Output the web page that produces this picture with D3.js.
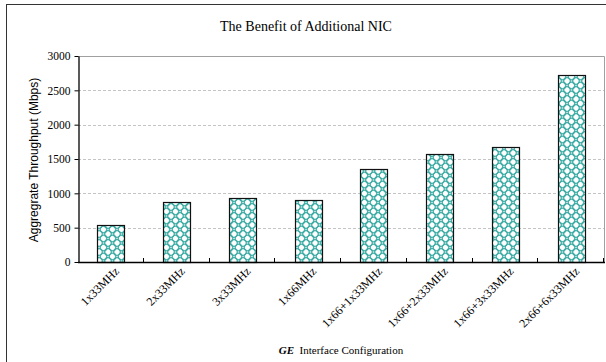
<!DOCTYPE html>
<html>
<head>
<meta charset="utf-8">
<script src="https://cdn.jsdelivr.net/npm/d3@7"></script>
<style>
  html, body { margin: 0; padding: 0; background: #fff; }
  svg { display: block; }
</style>
</head>
<body>
<script>
// Interface configurations and the measured aggregate throughput (Mbps)
const categories = ["1x33MHz", "2x33MHz", "3x33MHz", "1x66MHz",
  "1x66+1x33MHz", "1x66+2x33MHz", "1x66+3x33MHz", "2x66+6x33MHz"];
const throughput = [545, 880, 925, 905, 1360, 1575, 1675, 2730];
const yTicks = [0, 500, 1000, 1500, 2000, 2500, 3000];

const W = 606, H = 362;
const plot = { left: 78, right: 604, top: 56, bottom: 262 };

const svg = d3.select("body").append("svg")
  .attr("width", W).attr("height", H);

// lattice fill for the bars
const defs = svg.append("defs");
const pat = defs.append("pattern")
  .attr("id", "lattice")
  .attr("patternUnits", "userSpaceOnUse")
  .attr("width", 9).attr("height", 9);
pat.append("rect").attr("width", 9).attr("height", 9).attr("fill", "#fff");
[[0, 0], [9, 0], [0, 9], [9, 9], [4.5, 4.5]].forEach(([cx, cy]) => {
  pat.append("circle").attr("cx", cx).attr("cy", cy).attr("r", 3.3)
    .attr("fill", "none").attr("stroke", "#3fada6").attr("stroke-width", 1.3);
});

// outer frame
svg.append("rect")
  .attr("x", 6.5).attr("y", 4.5).attr("width", 620).attr("height", 380)
  .attr("fill", "none").attr("stroke", "#333").attr("stroke-width", 1);

const x = d3.scaleBand().domain(categories)
  .range([plot.left, plot.right]).paddingInner(0.59).paddingOuter(0.295);
const y = d3.scaleLinear().domain([0, 3000]).range([plot.bottom, plot.top]);

// dashed gridlines
svg.append("g").selectAll("line").data(yTicks.filter(d => d > 0 && d < 3000)).join("line")
  .attr("x1", plot.left).attr("x2", plot.right)
  .attr("y1", d => Math.round(y(d)) + 0.5).attr("y2", d => Math.round(y(d)) + 0.5)
  .attr("stroke", "#c4c4c4").attr("stroke-width", 1).attr("stroke-dasharray", "3,2");

// plot border (top and right)
svg.append("path")
  .attr("d", `M${plot.left},${plot.top + 0.5}H${plot.right + 0.5}V${plot.bottom}`)
  .attr("fill", "none").attr("stroke", "#a0a0a0").attr("stroke-width", 1);

// bars
svg.append("g").selectAll("rect").data(throughput).join("rect")
  .attr("x", (d, i) => Math.round(x(categories[i])) + 0.5)
  .attr("y", d => Math.round(y(d)) + 0.5)
  .attr("width", Math.round(x.bandwidth()))
  .attr("height", d => Math.round(y(0)) - Math.round(y(d)))
  .attr("fill", "url(#lattice)")
  .attr("stroke", "#111").attr("stroke-width", 1.2);

// y axis
const yAxis = svg.append("g")
  .attr("transform", `translate(${plot.left + 0.5},0)`)
  .call(d3.axisLeft(y).tickValues(yTicks).tickFormat(d3.format("d"))
    .tickSize(4).tickSizeOuter(0).tickPadding(4));
yAxis.select(".domain").attr("stroke", "#000").attr("stroke-width", 1.3);
yAxis.selectAll(".tick line").attr("stroke", "#000");
yAxis.selectAll("text")
  .attr("font-family", "'Liberation Serif', 'Times New Roman', serif")
  .attr("font-size", "11.5px").attr("fill", "#000");

// x axis: baseline with inward ticks at category boundaries
const step = x.step();
const bounds = d3.range(1, categories.length + 1).map(i => plot.left + i * step);
svg.append("line")
  .attr("x1", plot.left).attr("x2", plot.right + 1)
  .attr("y1", plot.bottom + 0.5).attr("y2", plot.bottom + 0.5)
  .attr("stroke", "#000").attr("stroke-width", 1.3);
svg.append("g").selectAll("line").data(bounds).join("line")
  .attr("x1", d => Math.round(d) - 0.5).attr("x2", d => Math.round(d) - 0.5)
  .attr("y1", plot.bottom).attr("y2", plot.bottom - 4)
  .attr("stroke", "#000").attr("stroke-width", 1);

// rotated category labels
svg.append("g").selectAll("text").data(categories).join("text")
  .attr("transform", d => `translate(${x(d) + x.bandwidth() / 2 + 9},${plot.bottom + 10}) rotate(-45)`)
  .attr("text-anchor", "end")
  .attr("font-family", "'Liberation Serif', 'Times New Roman', serif")
  .attr("font-size", "12px").attr("fill", "#000")
  .text(d => d);

// title
svg.append("text")
  .attr("x", 306).attr("y", 31)
  .attr("text-anchor", "middle")
  .attr("font-family", "'Liberation Serif', 'Times New Roman', serif")
  .attr("font-size", "14px").attr("fill", "#000")
  .text("The Benefit of Additional NIC");

// y axis title
svg.append("text")
  .attr("transform", `translate(38,160) rotate(-90)`)
  .attr("text-anchor", "middle")
  .attr("font-family", "'Liberation Sans', Arial, sans-serif")
  .attr("font-size", "12px").attr("fill", "#000")
  .text("Aggregrate Throughput (Mbps)");

// x axis title
const xt = svg.append("text")
  .attr("x", (plot.left + plot.right) / 2).attr("y", 354)
  .attr("text-anchor", "middle")
  .attr("font-family", "'Liberation Serif', 'Times New Roman', serif")
  .attr("font-size", "11px").attr("fill", "#000");
xt.append("tspan").attr("font-weight", "bold").attr("font-style", "italic").text("GE");
xt.append("tspan").text("\u00a0 Interface Configuration");
</script>
</body>
</html>
